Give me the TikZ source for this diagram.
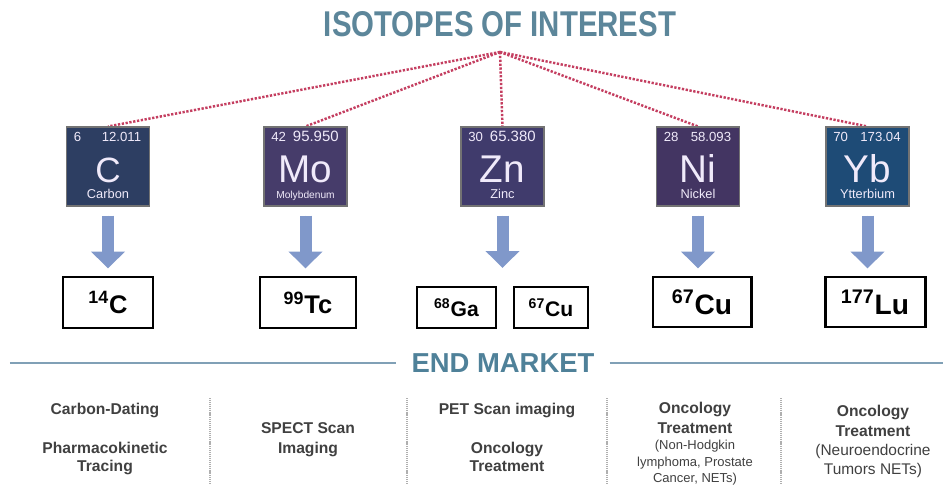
\documentclass[tikz,border=0pt]{standalone}
\usepackage{fontspec}
\setmainfont{Liberation Sans}
\newfontfamily\narrowsans[FakeStretch=0.82]{Liberation Sans}
\usepackage{tikz}
\usetikzlibrary{arrows.meta}
\definecolor{titleblue}{RGB}{92,134,154}
\definecolor{marketblue}{RGB}{79,129,153}
\definecolor{ruleblue}{RGB}{128,160,182}
\definecolor{linkred}{RGB}{196,62,96}
\definecolor{arrowblue}{RGB}{128,152,202}
\definecolor{textgray}{RGB}{64,64,64}
\definecolor{sepgray}{RGB}{175,175,175}
\definecolor{carbonblue}{RGB}{45,62,98}
\definecolor{molypurple}{RGB}{70,60,106}
\definecolor{zincpurple}{RGB}{64,59,108}
\definecolor{nickelpurple}{RGB}{67,53,98}
\definecolor{ytterblue}{RGB}{30,75,118}
\definecolor{tiletext}{RGB}{240,234,250}
\pgfdeclarelayer{edgelayer}
\pgfdeclarelayer{nodelayer}
\pgfsetlayers{edgelayer,nodelayer,main}
\tikzstyle{none}=[inner sep=0pt]
\tikzstyle{tile}=[rectangle,draw=black!55,line width=0.6pt,minimum width=1.66cm,minimum height=1.58cm,inner sep=0pt]
\tikzstyle{tilenum}=[inner sep=0pt,text=tiletext,font=\fontsize{7.5}{9}\selectfont]
\tikzstyle{symbol}=[inner sep=0pt,anchor=base,text=tiletext,font=\fontsize{22}{26}\selectfont]
\tikzstyle{elname}=[inner sep=0pt,anchor=base,text=tiletext,font=\fontsize{7.3}{9}\selectfont]
\tikzstyle{isobox}=[rectangle,draw=black,line width=1.7pt,fill=white,inner sep=0pt]
\tikzstyle{link}=[-,draw=linkred,line width=1.4pt,dash pattern=on 1.3pt off 0.9pt]
\tikzstyle{fatarrow}=[-{Triangle[width=0.66cm,length=0.34cm]},draw=arrowblue,fill=arrowblue,line width=0.24cm,shorten <=0.18cm,shorten >=0.14cm]
\tikzstyle{marketrule}=[draw=ruleblue,line width=0.9pt]
\tikzstyle{divider}=[draw=sepgray,line width=0.9pt,dash pattern=on 0.6pt off 0.5pt]
\tikzstyle{market}=[inner sep=0pt,anchor=base,text=textgray,font=\fontsize{8.9}{10}\selectfont\bfseries]
\tikzstyle{marketnote}=[inner sep=0pt,anchor=base,text=textgray,font=\fontsize{7.4}{9}\selectfont]
\tikzstyle{marketnotebig}=[inner sep=0pt,anchor=base,text=textgray,font=\fontsize{8.8}{10}\selectfont]

\begin{document}
\begin{tikzpicture}
	\useasboundingbox (0,0) rectangle (18.9,-9.7);
	\begin{pgfonlayer}{nodelayer}
		\node [style=none, anchor=base, text=titleblue, font=\narrowsans\bfseries\fontsize{20.4}{24}\selectfont] (title) at (10.0, -0.72) {ISOTOPES OF INTEREST};
		\coordinate (apex) at (10.0, -1.04);
		% element tiles
		\node [style=tile, fill=carbonblue] (C) at (2.16, -3.33) {};
		\node [style=tile, fill=molypurple] (Mo) at (6.11, -3.33) {};
		\node [style=tile, fill=zincpurple] (Zn) at (10.05, -3.33) {};
		\node [style=tile, fill=nickelpurple] (Ni) at (13.96, -3.33) {};
		\node [style=tile, fill=ytterblue] (Yb) at (17.35, -3.33) {};
		\node [style=tilenum, anchor=base west] (Cz) at (1.47, -2.82) {6};
		\node [style=tilenum, anchor=base east] (Cm) at (2.83, -2.82) {12.011};
		\node [style=tilenum, anchor=base west] (Moz) at (5.42, -2.82) {42};
		\node [style=tilenum, anchor=base east, font=\fontsize{8.5}{10}\selectfont] (Mom) at (6.78, -2.82) {95.950};
		\node [style=tilenum, anchor=base west] (Znz) at (9.36, -2.82) {30};
		\node [style=tilenum, anchor=base east, font=\fontsize{8.5}{10}\selectfont] (Znm) at (10.72, -2.82) {65.380};
		\node [style=tilenum, anchor=base west] (Niz) at (13.27, -2.82) {28};
		\node [style=tilenum, anchor=base east] (Nim) at (14.63, -2.82) {58.093};
		\node [style=tilenum, anchor=base west] (Ybz) at (16.66, -2.82) {70};
		\node [style=tilenum, anchor=base east] (Ybm) at (18.02, -2.82) {173.04};
		\node [style=symbol, font=\fontsize{20}{24}\selectfont] (Cs) at (2.16, -3.64) {C};
		\node [style=symbol] (Mos) at (6.11, -3.64) {Mo};
		\node [style=symbol] (Zns) at (10.05, -3.64) {Zn};
		\node [style=symbol] (Nis) at (13.96, -3.64) {Ni};
		\node [style=symbol] (Ybs) at (17.35, -3.64) {Yb};
		\node [style=elname] (Cn) at (2.16, -3.97) {Carbon};
		\node [style=elname, font=\fontsize{5.8}{7}\selectfont] (Mon) at (6.11, -3.97) {Molybdenum};
		\node [style=elname] (Znn) at (10.05, -3.97) {Zinc};
		\node [style=elname] (Nin) at (13.96, -3.97) {Nickel};
		\node [style=elname] (Ybn) at (17.35, -3.97) {Ytterbium};
		% isotopes
		\node [style=isobox, minimum width=1.80cm, minimum height=1.02cm, font=\bfseries\fontsize{14.5}{16}\selectfont] (C14) at (2.16, -6.05) {\textsuperscript{14}C};
		\node [style=isobox, minimum width=1.92cm, minimum height=1.02cm, font=\bfseries\fontsize{14.5}{16}\selectfont] (Tc99) at (6.16, -6.05) {\textsuperscript{99}Tc};
		\node [style=isobox, minimum width=1.58cm, minimum height=0.82cm, font=\bfseries\fontsize{12}{14}\selectfont] (Ga68) at (9.13, -6.15) {\textsuperscript{68}Ga};
		\node [style=isobox, minimum width=1.48cm, minimum height=0.82cm, font=\bfseries\fontsize{12}{14}\selectfont] (Cu67a) at (11.02, -6.15) {\textsuperscript{67}Cu};
		\node [style=isobox, minimum width=1.96cm, minimum height=1.00cm, font=\bfseries\fontsize{16}{18}\selectfont] (Cu67b) at (14.04, -6.04) {\textsuperscript{67}Cu};
		\node [style=isobox, minimum width=2.00cm, minimum height=1.00cm, font=\bfseries\fontsize{16}{18}\selectfont] (Lu177) at (17.5, -6.04) {\textsuperscript{177}Lu};
		\coordinate (ZnEnd) at (10.05, -5.50);
		% end market
		\node [style=none, anchor=base, inner xsep=0.3cm, text=marketblue, font=\bfseries\fontsize{15.6}{18}\selectfont] (EM) at (10.06, -7.44) {END MARKET};
		\coordinate (ruleL) at (0.2, -7.26);
		\coordinate (ruleR) at (18.86, -7.26);
		\node [style=market] (u1) at (2.10, -8.28) {Carbon-Dating};
		\node [style=market] (u2) at (2.10, -9.06) {Pharmacokinetic};
		\node [style=market] (u3) at (2.10, -9.42) {Tracing};
		\node [style=market] (u4) at (6.16, -8.66) {SPECT Scan};
		\node [style=market] (u5) at (6.16, -9.06) {Imaging};
		\node [style=market] (u6) at (10.14, -8.28) {PET Scan imaging};
		\node [style=market] (u7) at (10.14, -9.06) {Oncology};
		\node [style=market] (u8) at (10.14, -9.42) {Treatment};
		\node [style=market] (u9) at (13.90, -8.26) {Oncology};
		\node [style=market] (u10) at (13.90, -8.66) {Treatment};
		\node [style=marketnote] (u11) at (13.90, -8.98) {(Non-Hodgkin};
		\node [style=marketnote] (u12) at (13.90, -9.32) {lymphoma, Prostate};
		\node [style=marketnote] (u13) at (13.90, -9.64) {Cancer, NETs)};
		\node [style=market] (u14) at (17.46, -8.32) {Oncology};
		\node [style=market] (u15) at (17.46, -8.72) {Treatment};
		\node [style=marketnotebig] (u16) at (17.46, -9.10) {(Neuroendocrine};
		\node [style=marketnotebig] (u17) at (17.46, -9.48) {Tumors NETs)};
	\end{pgfonlayer}
	\begin{pgfonlayer}{edgelayer}
		\draw [style=link] (apex) to (C.north);
		\draw [style=link] (apex) to (Mo.north);
		\draw [style=link] (apex) to (Zn.north);
		\draw [style=link] (apex) to (Ni.north);
		\draw [style=link] (apex) to (Yb.north);
		\draw [style=fatarrow] (C.south) to (C.south |- C14.north);
		\draw [style=fatarrow] (Mo.south) to (Mo.south |- Tc99.north);
		\draw [style=fatarrow] (Zn.south) to (ZnEnd);
		\draw [style=fatarrow] (Ni.south) to (Ni.south |- Cu67b.north);
		\draw [style=fatarrow] (Yb.south) to (Yb.south |- Lu177.north);
		\draw [style=marketrule] (ruleL) to (ruleL -| EM.west);
		\draw [style=marketrule] (ruleR -| EM.east) to (ruleR);
		\draw [style=divider] (4.2, -7.96) -- (4.2, -9.7);
		\draw [style=divider] (8.14, -7.96) -- (8.14, -9.7);
		\draw [style=divider] (12.14, -7.96) -- (12.14, -9.7);
		\draw [style=divider] (15.62, -7.96) -- (15.62, -9.7);
	\end{pgfonlayer}
\end{tikzpicture}
\end{document}
